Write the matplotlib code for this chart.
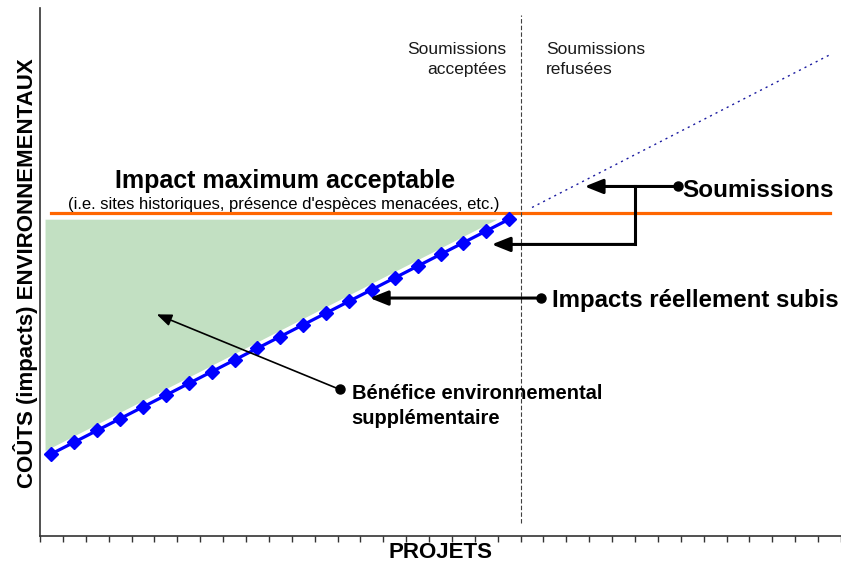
import matplotlib
matplotlib.use("Agg")
import matplotlib.pyplot as plt
import numpy as np

plt.rcParams['font.family'] = ['Liberation Sans', 'DejaVu Sans']

# ---- data ----
n_projects = 35
cats_accepted = list(range(0, 21))
impacts_accepted = [7, 8, 9, 10, 11, 12, 13, 14, 15, 16, 17, 18, 19, 20,
                    21, 22, 23, 24, 25, 26, 27]
cats_refused = list(range(21, 35))
impacts_refused = [28, 29, 30, 31, 32, 33, 34, 35, 36, 37, 38, 39, 40, 41]
max_acceptable = 27.5
threshold_cat = 20.5

fig = plt.figure(figsize=(8.41, 5.65), dpi=100)
ax = fig.add_axes([40/841, 29/565, 801/841, 528/565])
ax.set_xlim(-0.5, n_projects - 0.5)
ax.set_ylim(0, 45)

# green "benefit" area
xa = np.array(cats_accepted, dtype=float)
ya = np.array(impacts_accepted, dtype=float)
slope = ya[1] - ya[0]
x_fill = np.concatenate([[xa[0] - 0.28], xa])
y_low = np.concatenate([[ya[0] - 0.28 * slope], ya]) + 0.55
top = ya[-1]
ax.fill_between(x_fill, y_low, top, where=y_low <= top, interpolate=True,
                color='#C2E0C2', linewidth=0, zorder=1)

# max acceptable line
ax.plot([0, n_projects - 1], [max_acceptable, max_acceptable],
        color='#FF6600', lw=2.3, zorder=2)

# impacts (accepted)
ax.plot(cats_accepted, impacts_accepted, color='#0000FF', lw=2.3,
        marker='D', ms=6.8, mec='#0000FF', mfc='#0000FF', zorder=4)
# refused submissions (dotted)
ax.plot(cats_refused, impacts_refused, color='#1A1AA0', lw=1.0,
        linestyle=(0, (1.5, 3)), zorder=3)

# threshold dashed vertical line
ax.axvline(threshold_cat, ymin=0.025, ymax=0.987, color='#404040',
           lw=0.8, linestyle=(0, (4, 2)), zorder=3)

# axes styling
for s in ['top', 'right']:
    ax.spines[s].set_visible(False)
for s in ['left', 'bottom']:
    ax.spines[s].set_color('#333333')
    ax.spines[s].set_linewidth(1.2)
ax.set_xticks(np.arange(-0.5, n_projects, 1.0))
ax.set_xticklabels([])
ax.set_yticks([])
ax.tick_params(axis='x', direction='out', length=4.3, width=1, color='#333333')

# texts
ax.text(19.89, 40.6, "Soumissions\nacceptées", ha='right', va='center',
        multialignment='right', fontsize=12.5, linespacing=1.45, color='#1a1a1a')
ax.text(21.6, 40.6, "Soumissions\nrefusées", ha='left', va='center',
        multialignment='left', fontsize=12.5, linespacing=1.45, color='#1a1a1a')
ax.text(10.2, 29.7, "Impact maximum acceptable", ha='center', va='baseline',
        fontsize=18, fontweight='bold', zorder=6)
ax.text(10.13, 27.83, "(i.e. sites historiques, présence d'espèces menacées, etc.)",
        ha='center', va='baseline', fontsize=12, zorder=6)
ax.text(27.58, 28.88, "Soumissions", ha='left', va='baseline',
        fontsize=17.5, fontweight='bold', zorder=6)
ax.text(21.86, 19.53, "Impacts réellement subis", ha='left', va='baseline',
        fontsize=17.3, fontweight='bold', zorder=6)
ax.text(13.12, 11.1, "Bénéfice environnemental\nsupplémentaire", ha='left',
        va='center', multialignment='left', fontsize=14.5, fontweight='bold',
        linespacing=1.42, zorder=6)

fig.text(26/841, 1 - 273/565, "COÛTS (impacts) ENVIRONNEMENTAUX", rotation=90,
         ha='center', va='center', fontsize=16, fontweight='bold')
fig.text(441/841, 1 - 552/565, "PROJETS", ha='center', va='center',
         fontsize=16, fontweight='bold')

# arrows
big_head = dict(arrowstyle='-|>,head_length=0.55,head_width=0.22',
                color='black', lw=2.2, shrinkA=0, shrinkB=0, mutation_scale=20)
small_head = dict(arrowstyle='-|>,head_length=0.5,head_width=0.2',
                  color='black', lw=1.2, shrinkA=0, shrinkB=0, mutation_scale=18)

# Soumissions
ax.plot([27.36], [29.79], 'o', color='black', ms=6.5, zorder=7)
ax.annotate("", xy=(23.30, 29.79), xytext=(27.36, 29.79), arrowprops=big_head, zorder=7)
ax.plot([25.48, 25.48], [29.79, 24.85], color='black', lw=2.2, zorder=7,
        solid_capstyle='projecting')
ax.annotate("", xy=(19.24, 24.85), xytext=(25.48, 24.85), arrowprops=big_head, zorder=7)

# Impacts reellement subis
ax.plot([21.41], [20.28], 'o', color='black', ms=6.5, zorder=7)
ax.annotate("", xy=(13.91, 20.28), xytext=(21.41, 20.28), arrowprops=big_head, zorder=7)

# Benefice
ax.plot([12.60], [12.49], 'o', color='black', ms=6.5, zorder=7)
ax.annotate("", xy=(4.60, 18.89), xytext=(12.60, 12.49), arrowprops=small_head, zorder=7)

fig.savefig("out.png", dpi=100)
